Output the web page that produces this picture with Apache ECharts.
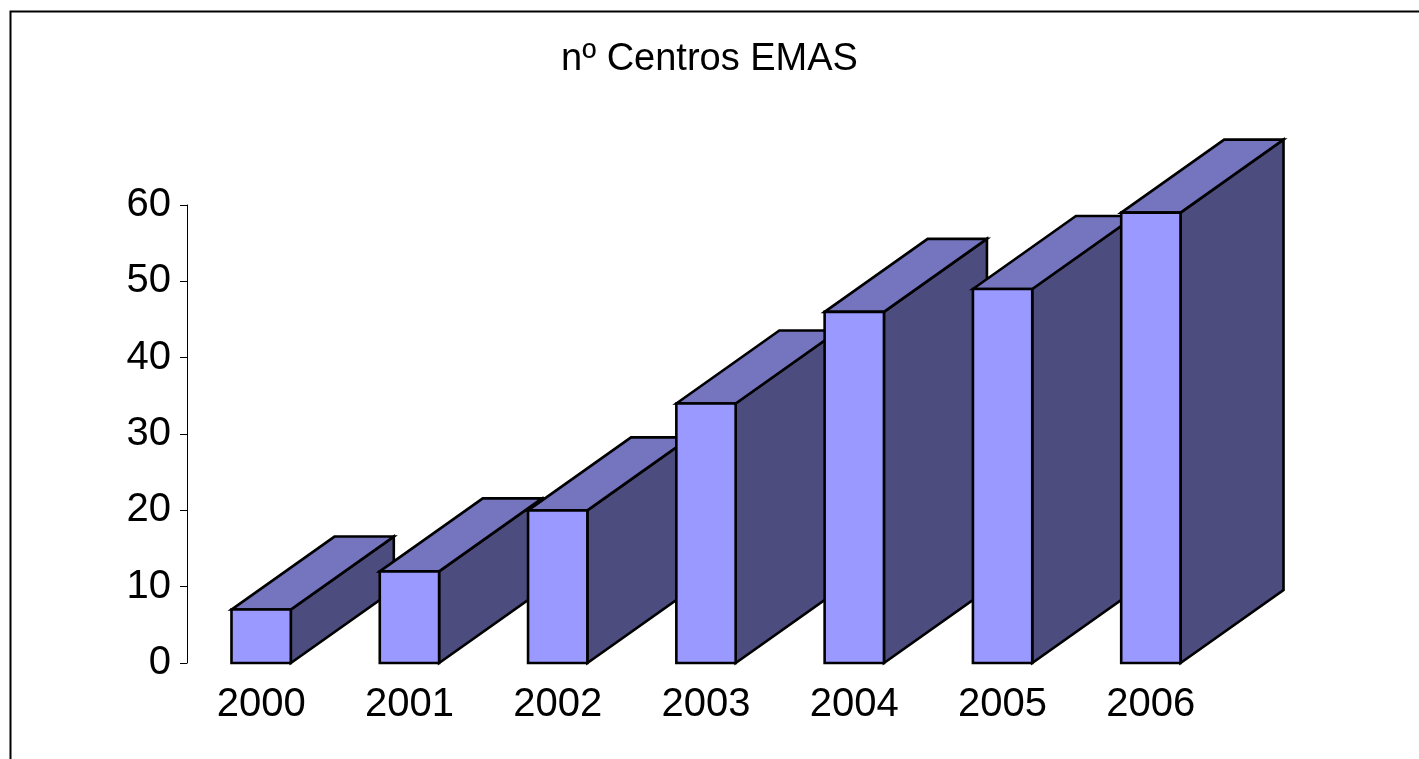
<!DOCTYPE html>
<html>
<head>
<meta charset="utf-8">
<title>nº Centros EMAS</title>
<script src="https://cdn.jsdelivr.net/npm/echarts@6/dist/echarts.min.js"></script>
<style>
    html, body { margin: 0; padding: 0; background: #fff; }
    #chart { width: 1419px; height: 759px; }
</style>
</head>
<body>
<div id="chart"></div>
<script>
// Data
const years = ['2000', '2001', '2002', '2003', '2004', '2005', '2006'];
const centros = [7, 12, 20, 34, 46, 49, 59];
const yTicks = [0, 10, 20, 30, 40, 50, 60];

// Look of the 3D boxes (Excel style)
const FRONT = '#9999FF';
const TOP = '#7474BF';
const SIDE = '#4C4C7F';
const DEPTH_X = 103;
const DEPTH_Y = -73;
const FONT = '"Liberation Sans", Arial, sans-serif';

// Draw one box: front face, top face and right side
function renderBox(params, api) {
    const idx = api.value(0);
    const val = api.value(1);
    const top = api.coord([idx, val]);
    const base = api.coord([idx, 0]);
    const w = api.size([1, 0])[0] * 0.4;
    const l = top[0] - w / 2;
    const r = top[0] + w / 2;
    const line = { stroke: '#000', lineWidth: 2.6, lineJoin: 'miter' };

    return {
        type: 'group',
        children: [
            {
                type: 'polygon',
                shape: { points: [[r, top[1]], [r + DEPTH_X, top[1] + DEPTH_Y], [r + DEPTH_X, base[1] + DEPTH_Y], [r, base[1]]] },
                style: Object.assign({ fill: SIDE }, line)
            },
            {
                type: 'polygon',
                shape: { points: [[l, top[1]], [l + DEPTH_X, top[1] + DEPTH_Y], [r + DEPTH_X, top[1] + DEPTH_Y], [r, top[1]]] },
                style: Object.assign({ fill: TOP }, line)
            },
            {
                type: 'rect',
                shape: { x: l, y: top[1], width: w, height: base[1] - top[1] },
                style: Object.assign({ fill: FRONT }, line)
            }
        ]
    };
}

const chart = echarts.init(document.getElementById('chart'), null, { renderer: 'canvas' });

chart.setOption({
    backgroundColor: '#fff',
    animation: false,
    title: {
        text: 'nº Centros EMAS',
        left: 'center',
        top: 36,
        textStyle: { fontFamily: FONT, fontSize: 38, fontWeight: 'normal', color: '#000' }
    },
    graphic: [{
        type: 'rect',
        left: 8,
        top: 9,
        shape: { width: 1500, height: 800 },
        style: { fill: 'none', stroke: '#000', lineWidth: 2 },
        z: -1
    }],
    grid: { left: 187, right: 194, top: 205, bottom: 96 },
    xAxis: {
        type: 'category',
        data: years,
        axisLine: { show: false },
        axisTick: { show: false },
        axisLabel: { margin: 22, fontFamily: FONT, fontSize: 40, color: '#000' }
    },
    yAxis: {
        type: 'value',
        min: yTicks[0],
        max: yTicks[yTicks.length - 1],
        interval: 10,
        axisLine: { show: true, lineStyle: { color: '#000', width: 1 } },
        axisTick: { show: true, length: 7, lineStyle: { color: '#000' } },
        axisLabel: { margin: 16, fontFamily: FONT, fontSize: 40, color: '#000' },
        splitLine: { show: false }
    },
    series: [{
        type: 'custom',
        clip: false,
        renderItem: renderBox,
        encode: { x: 0, y: 1 },
        data: centros.map((v, i) => [i, v])
    }]
});
</script>
</body>
</html>
